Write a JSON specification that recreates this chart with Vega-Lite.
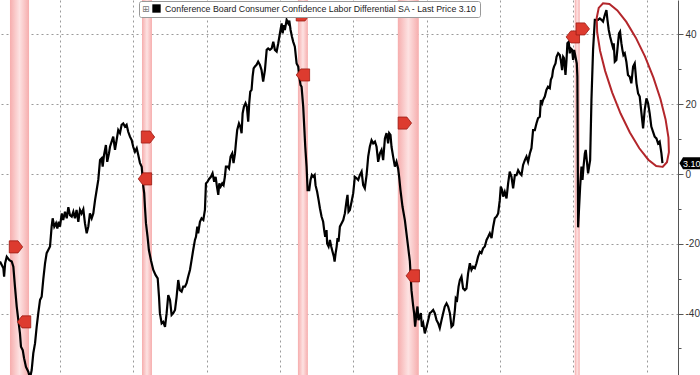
{
  "$schema": "https://vega.github.io/schema/vega-lite/v6.json",
  "width": 678,
  "height": 375,
  "padding": {"left": 0, "top": 0, "bottom": 0, "right": 22},
  "autosize": {"type": "none"},
  "background": "white",
  "config": {"view": {"stroke": null}, "font": "Liberation Sans"},
  "datasets": {
    "rec": [
      {"start": 1981.59, "end": 1982.89},
      {"start": 1990.59, "end": 1991.27},
      {"start": 2001.22, "end": 2001.9},
      {"start": 2008.03, "end": 2009.46},
      {"start": 2020.09, "end": 2020.43}
    ],
    "series": [
      {"t":1980.91,"v":-25.1},{"t":1981.03,"v":-26.1},{"t":1981.14,"v":-27.0},{"t":1981.19,"v":-29.4},{"t":1981.26,"v":-25.6},{"t":1981.37,"v":-23.7},{"t":1981.55,"v":-24.7},{"t":1981.71,"v":-25.1},{"t":1981.82,"v":-26.6},{"t":1981.93,"v":-32.3},
      {"t":1982.05,"v":-38.0},{"t":1982.16,"v":-41.9},{"t":1982.27,"v":-45.7},{"t":1982.34,"v":-49.5},{"t":1982.46,"v":-50.5},{"t":1982.55,"v":-52.8},{"t":1982.68,"v":-55.3},{"t":1982.84,"v":-56.7},{"t":1982.96,"v":-58.5},{"t":1983.07,"v":-56.2},
      {"t":1983.18,"v":-51.4},{"t":1983.30,"v":-48.5},{"t":1983.41,"v":-43.8},{"t":1983.52,"v":-39.9},{"t":1983.64,"v":-36.1},{"t":1983.75,"v":-35.2},{"t":1983.86,"v":-30.2},{"t":1983.98,"v":-25.6},{"t":1984.09,"v":-22.7},{"t":1984.32,"v":-20.8},
      {"t":1984.43,"v":-15.1},{"t":1984.50,"v":-12.7},{"t":1984.61,"v":-15.1},{"t":1984.73,"v":-14.1},{"t":1984.82,"v":-15.6},{"t":1984.91,"v":-13.7},{"t":1985.00,"v":-15.1},{"t":1985.12,"v":-11.3},{"t":1985.22,"v":-13.2},{"t":1985.34,"v":-10.8},
      {"t":1985.46,"v":-12.7},{"t":1985.57,"v":-9.5},{"t":1985.68,"v":-11.8},{"t":1985.80,"v":-12.2},{"t":1985.91,"v":-10.8},{"t":1986.02,"v":-12.7},{"t":1986.13,"v":-10.3},{"t":1986.25,"v":-13.7},{"t":1986.36,"v":-10.3},{"t":1986.47,"v":-11.3},
      {"t":1986.59,"v":-10.1},{"t":1986.70,"v":-14.1},{"t":1986.82,"v":-17.0},{"t":1986.93,"v":-15.1},{"t":1987.04,"v":-11.3},{"t":1987.16,"v":-12.7},{"t":1987.27,"v":-11.3},{"t":1987.39,"v":-7.5},{"t":1987.50,"v":-4.6},{"t":1987.61,"v":-1.7},
      {"t":1987.73,"v":4.0},{"t":1987.84,"v":4.5},{"t":1987.91,"v":2.1},{"t":1988.00,"v":5.4},{"t":1988.13,"v":8.3},{"t":1988.22,"v":3.5},{"t":1988.34,"v":5.9},{"t":1988.41,"v":7.8},{"t":1988.52,"v":9.3},{"t":1988.63,"v":10.7},
      {"t":1988.75,"v":6.9},{"t":1988.86,"v":9.7},{"t":1988.97,"v":12.6},{"t":1989.09,"v":11.7},{"t":1989.20,"v":14.1},{"t":1989.31,"v":14.5},{"t":1989.43,"v":13.6},{"t":1989.54,"v":14.1},{"t":1989.65,"v":12.1},{"t":1989.77,"v":10.7},
      {"t":1989.89,"v":9.7},{"t":1989.99,"v":7.8},{"t":1990.11,"v":6.4},{"t":1990.23,"v":7.4},{"t":1990.34,"v":5.4},{"t":1990.45,"v":3.2},{"t":1990.57,"v":2.1},{"t":1990.68,"v":-3.6},{"t":1990.74,"v":-5.5},{"t":1990.79,"v":-9.4},
      {"t":1990.86,"v":-14.1},{"t":1990.97,"v":-18.0},{"t":1991.06,"v":-21.8},{"t":1991.20,"v":-24.7},{"t":1991.36,"v":-27.5},{"t":1991.52,"v":-29.0},{"t":1991.66,"v":-29.9},{"t":1991.75,"v":-35.2},{"t":1991.81,"v":-39.9},{"t":1991.93,"v":-42.8},
      {"t":1992.04,"v":-42.4},{"t":1992.16,"v":-43.8},{"t":1992.27,"v":-39.9},{"t":1992.38,"v":-34.7},{"t":1992.50,"v":-36.1},{"t":1992.61,"v":-40.4},{"t":1992.72,"v":-39.9},{"t":1992.84,"v":-39.0},{"t":1992.95,"v":-35.2},{"t":1993.06,"v":-30.4},
      {"t":1993.17,"v":-33.3},{"t":1993.29,"v":-33.7},{"t":1993.40,"v":-32.3},{"t":1993.52,"v":-32.3},{"t":1993.63,"v":-31.3},{"t":1993.74,"v":-29.4},{"t":1993.86,"v":-27.5},{"t":1993.97,"v":-24.7},{"t":1994.08,"v":-21.8},{"t":1994.20,"v":-18.9},
      {"t":1994.27,"v":-18.0},{"t":1994.36,"v":-15.1},{"t":1994.42,"v":-17.0},{"t":1994.54,"v":-13.7},{"t":1994.65,"v":-12.7},{"t":1994.77,"v":-13.2},{"t":1994.88,"v":-10.3},{"t":1994.95,"v":-2.7},{"t":1995.06,"v":-2.2},{"t":1995.15,"v":-1.5},
      {"t":1995.29,"v":-0.8},{"t":1995.40,"v":0.2},{"t":1995.51,"v":-2.2},{"t":1995.61,"v":-0.8},{"t":1995.70,"v":-3.6},{"t":1995.79,"v":-6.0},{"t":1995.86,"v":-2.7},{"t":1995.95,"v":-3.6},{"t":1996.06,"v":-2.7},{"t":1996.15,"v":-3.2},
      {"t":1996.24,"v":-0.8},{"t":1996.31,"v":2.1},{"t":1996.43,"v":2.1},{"t":1996.52,"v":1.6},{"t":1996.63,"v":5.0},{"t":1996.74,"v":5.9},{"t":1996.83,"v":3.1},{"t":1996.93,"v":5.9},{"t":1996.99,"v":8.8},{"t":1997.08,"v":12.6},
      {"t":1997.20,"v":14.5},{"t":1997.29,"v":13.6},{"t":1997.38,"v":11.7},{"t":1997.45,"v":17.4},{"t":1997.54,"v":19.3},{"t":1997.65,"v":20.3},{"t":1997.74,"v":19.3},{"t":1997.83,"v":15.0},{"t":1997.90,"v":20.3},{"t":1997.97,"v":23.6},
      {"t":1998.06,"v":24.1},{"t":1998.13,"v":27.9},{"t":1998.20,"v":30.3},{"t":1998.29,"v":30.8},{"t":1998.40,"v":31.3},{"t":1998.51,"v":32.2},{"t":1998.63,"v":31.3},{"t":1998.74,"v":29.8},{"t":1998.85,"v":26.5},{"t":1998.97,"v":29.8},
      {"t":1999.09,"v":35.6},{"t":1999.19,"v":36.0},{"t":1999.31,"v":35.6},{"t":1999.43,"v":36.0},{"t":1999.54,"v":37.9},{"t":1999.65,"v":35.6},{"t":1999.77,"v":35.1},{"t":1999.88,"v":37.5},{"t":1999.99,"v":40.3},{"t":2000.11,"v":43.2},
      {"t":2000.18,"v":40.3},{"t":2000.26,"v":42.7},{"t":2000.33,"v":41.3},{"t":2000.45,"v":44.2},{"t":2000.56,"v":43.2},{"t":2000.63,"v":44.0},{"t":2000.72,"v":41.3},{"t":2000.81,"v":39.4},{"t":2000.90,"v":37.9},{"t":2001.01,"v":36.5},
      {"t":2001.13,"v":31.7},{"t":2001.24,"v":30.8},{"t":2001.31,"v":27.9},{"t":2001.40,"v":25.5},{"t":2001.47,"v":25.0},{"t":2001.58,"v":19.3},{"t":2001.65,"v":13.6},{"t":2001.72,"v":7.8},{"t":2001.81,"v":2.1},{"t":2001.88,"v":-4.6},
      {"t":2001.99,"v":-4.6},{"t":2002.08,"v":-1.7},{"t":2002.17,"v":-0.3},{"t":2002.26,"v":-0.8},{"t":2002.36,"v":-0.3},{"t":2002.42,"v":-3.2},{"t":2002.53,"v":-5.1},{"t":2002.63,"v":-7.5},{"t":2002.72,"v":-9.8},{"t":2002.83,"v":-12.2},
      {"t":2002.94,"v":-13.7},{"t":2003.01,"v":-16.1},{"t":2003.08,"v":-18.0},{"t":2003.17,"v":-16.1},{"t":2003.21,"v":-19.9},{"t":2003.31,"v":-20.8},{"t":2003.40,"v":-18.9},{"t":2003.49,"v":-20.8},{"t":2003.58,"v":-22.3},{"t":2003.67,"v":-23.7},
      {"t":2003.72,"v":-25.1},{"t":2003.79,"v":-22.7},{"t":2003.86,"v":-20.8},{"t":2003.92,"v":-18.4},{"t":2003.99,"v":-19.4},{"t":2004.08,"v":-15.1},{"t":2004.20,"v":-14.1},{"t":2004.31,"v":-13.2},{"t":2004.42,"v":-11.3},{"t":2004.54,"v":-7.5},
      {"t":2004.60,"v":-6.0},{"t":2004.67,"v":-10.8},{"t":2004.76,"v":-10.3},{"t":2004.88,"v":-7.9},{"t":2004.99,"v":-5.5},{"t":2005.10,"v":-0.8},{"t":2005.22,"v":-1.2},{"t":2005.33,"v":-1.7},{"t":2005.44,"v":-0.3},{"t":2005.56,"v":0.7},
      {"t":2005.67,"v":-3.2},{"t":2005.78,"v":-4.1},{"t":2005.90,"v":-0.3},{"t":2006.01,"v":5.0},{"t":2006.12,"v":7.8},{"t":2006.24,"v":9.7},{"t":2006.35,"v":8.8},{"t":2006.47,"v":9.3},{"t":2006.58,"v":7.8},{"t":2006.69,"v":3.5},
      {"t":2006.81,"v":5.9},{"t":2006.92,"v":6.9},{"t":2007.03,"v":4.0},{"t":2007.15,"v":10.2},{"t":2007.26,"v":11.7},{"t":2007.37,"v":8.8},{"t":2007.44,"v":11.7},{"t":2007.53,"v":11.2},{"t":2007.60,"v":7.8},{"t":2007.71,"v":5.0},
      {"t":2007.83,"v":2.1},{"t":2007.94,"v":3.5},{"t":2008.05,"v":1.6},{"t":2008.12,"v":-0.8},{"t":2008.21,"v":-4.6},{"t":2008.35,"v":-9.4},{"t":2008.51,"v":-13.2},{"t":2008.62,"v":-17.0},{"t":2008.73,"v":-20.8},{"t":2008.85,"v":-25.0},
      {"t":2008.96,"v":-33.3},{"t":2009.07,"v":-37.6},{"t":2009.14,"v":-39.9},{"t":2009.21,"v":-43.8},{"t":2009.30,"v":-39.9},{"t":2009.37,"v":-38.0},{"t":2009.44,"v":-41.9},{"t":2009.53,"v":-40.9},{"t":2009.60,"v":-39.9},{"t":2009.67,"v":-43.8},
      {"t":2009.76,"v":-42.8},{"t":2009.87,"v":-45.7},{"t":2009.99,"v":-43.8},{"t":2010.10,"v":-41.9},{"t":2010.21,"v":-39.9},{"t":2010.33,"v":-39.5},{"t":2010.44,"v":-39.0},{"t":2010.55,"v":-39.9},{"t":2010.67,"v":-41.9},{"t":2010.78,"v":-42.8},
      {"t":2010.89,"v":-44.2},{"t":2011.01,"v":-41.9},{"t":2011.12,"v":-39.9},{"t":2011.23,"v":-38.0},{"t":2011.35,"v":-37.1},{"t":2011.46,"v":-38.0},{"t":2011.58,"v":-39.9},{"t":2011.69,"v":-43.8},{"t":2011.80,"v":-43.3},{"t":2011.92,"v":-39.0},
      {"t":2011.98,"v":-35.6},{"t":2012.07,"v":-36.1},{"t":2012.17,"v":-32.3},{"t":2012.26,"v":-30.4},{"t":2012.37,"v":-29.4},{"t":2012.48,"v":-32.8},{"t":2012.60,"v":-33.3},{"t":2012.71,"v":-32.8},{"t":2012.82,"v":-28.5},{"t":2012.94,"v":-25.6},
      {"t":2013.05,"v":-27.5},{"t":2013.16,"v":-26.6},{"t":2013.28,"v":-27.0},{"t":2013.39,"v":-25.6},{"t":2013.50,"v":-23.7},{"t":2013.62,"v":-22.3},{"t":2013.73,"v":-22.7},{"t":2013.84,"v":-21.3},{"t":2013.96,"v":-20.8},{"t":2014.08,"v":-18.9},
      {"t":2014.19,"v":-18.0},{"t":2014.30,"v":-17.0},{"t":2014.42,"v":-18.4},{"t":2014.53,"v":-15.1},{"t":2014.64,"v":-12.7},{"t":2014.76,"v":-12.2},{"t":2014.87,"v":-11.3},{"t":2014.98,"v":-7.5},{"t":2015.05,"v":-3.6},{"t":2015.14,"v":-4.6},
      {"t":2015.21,"v":-6.5},{"t":2015.32,"v":-5.1},{"t":2015.44,"v":-7.0},{"t":2015.55,"v":-2.7},{"t":2015.66,"v":0.7},{"t":2015.78,"v":-0.8},{"t":2015.89,"v":-4.1},{"t":2016.01,"v":-0.3},{"t":2016.12,"v":-0.3},{"t":2016.23,"v":1.1},
      {"t":2016.35,"v":0.2},{"t":2016.46,"v":-0.3},{"t":2016.57,"v":2.6},{"t":2016.69,"v":4.0},{"t":2016.80,"v":5.0},{"t":2016.91,"v":3.5},{"t":2017.03,"v":5.9},{"t":2017.14,"v":7.4},{"t":2017.25,"v":12.6},{"t":2017.37,"v":12.6},
      {"t":2017.48,"v":14.5},{"t":2017.59,"v":16.0},{"t":2017.71,"v":16.4},{"t":2017.78,"v":21.2},{"t":2017.87,"v":20.3},{"t":2017.93,"v":21.2},{"t":2018.05,"v":22.2},{"t":2018.16,"v":24.1},{"t":2018.27,"v":25.0},{"t":2018.39,"v":24.6},
      {"t":2018.46,"v":27.0},{"t":2018.55,"v":27.9},{"t":2018.61,"v":29.8},{"t":2018.68,"v":30.8},{"t":2018.78,"v":31.7},{"t":2018.85,"v":33.6},{"t":2018.96,"v":34.6},{"t":2019.07,"v":34.1},{"t":2019.14,"v":32.7},{"t":2019.23,"v":29.8},
      {"t":2019.30,"v":33.6},{"t":2019.36,"v":33.2},{"t":2019.46,"v":28.4},{"t":2019.53,"v":32.7},{"t":2019.59,"v":37.5},{"t":2019.68,"v":37.9},{"t":2019.75,"v":34.6},{"t":2019.82,"v":36.0},{"t":2019.91,"v":35.6},{"t":2019.98,"v":32.7},
      {"t":2020.05,"v":35.6},{"t":2020.14,"v":33.6},{"t":2020.23,"v":31.7},{"t":2020.27,"v":28.0},{"t":2020.32,"v":-15.3},{"t":2020.39,"v":-9.4},{"t":2020.46,"v":-3.6},{"t":2020.55,"v":2.1},{"t":2020.62,"v":-1.7},{"t":2020.69,"v":2.1},
      {"t":2020.78,"v":5.9},{"t":2020.84,"v":6.9},{"t":2020.91,"v":4.0},{"t":2021.00,"v":0.2},{"t":2021.07,"v":2.1},{"t":2021.14,"v":4.0},{"t":2021.23,"v":21.2},{"t":2021.34,"v":35.6},{"t":2021.46,"v":44.2},{"t":2021.68,"v":44.2},
      {"t":2021.80,"v":44.6},{"t":2021.91,"v":44.2},{"t":2022.02,"v":43.7},{"t":2022.14,"v":45.6},{"t":2022.25,"v":47.0},{"t":2022.32,"v":44.2},{"t":2022.41,"v":41.3},{"t":2022.50,"v":39.4},{"t":2022.59,"v":37.9},{"t":2022.68,"v":36.5},
      {"t":2022.75,"v":37.5},{"t":2022.82,"v":32.2},{"t":2022.93,"v":32.7},{"t":2023.04,"v":37.5},{"t":2023.11,"v":40.3},{"t":2023.18,"v":40.8},{"t":2023.27,"v":37.5},{"t":2023.34,"v":35.6},{"t":2023.41,"v":34.1},{"t":2023.50,"v":34.6},
      {"t":2023.61,"v":32.2},{"t":2023.72,"v":28.4},{"t":2023.84,"v":27.9},{"t":2023.95,"v":26.0},{"t":2024.07,"v":30.8},{"t":2024.18,"v":31.7},{"t":2024.30,"v":26.0},{"t":2024.41,"v":23.1},{"t":2024.52,"v":22.2},{"t":2024.64,"v":17.4},
      {"t":2024.75,"v":13.1},{"t":2024.86,"v":18.4},{"t":2024.98,"v":21.7},{"t":2025.09,"v":20.3},{"t":2025.20,"v":17.4},{"t":2025.31,"v":13.6},{"t":2025.43,"v":12.1},{"t":2025.54,"v":10.7},{"t":2025.66,"v":10.2},{"t":2025.77,"v":8.8},
      {"t":2025.88,"v":9.3},{"t":2026.00,"v":5.9},{"t":2026.07,"v":3.1}
    ],
    "flags": [
      {"t":1982.0,"v":-20.9,"dir":"R"},
      {"t":1982.55,"v":-42.4,"dir":"L"},
      {"t":1991.0,"v":10.6,"dir":"R"},
      {"t":1990.79,"v":-1.4,"dir":"L"},
      {"t":2001.56,"v":28.4,"dir":"L"},
      {"t":2001.56,"v":45.6,"dir":"R"},
      {"t":2008.51,"v":14.6,"dir":"R"},
      {"t":2009.05,"v":-29.2,"dir":"L"},
      {"t":2019.96,"v":39.3,"dir":"L"},
      {"t":2020.64,"v":41.6,"dir":"R"}
    ],
    "circle": [{"t": 2024.05, "v": 25.5}],
    "last": [{"t": 2027.13, "v": 3.1, "label": "3.10"}]
  },
  "layer": [
    {
      "data": {"name": "rec"},
      "mark": {
        "type": "rect",
        "fill": {"gradient": "linear", "x1": 0, "y1": 0, "x2": 1, "y2": 0,
          "stops": [{"offset": 0, "color": "#f6adad"}, {"offset": 0.5, "color": "#fde2e2"}, {"offset": 1, "color": "#f6adad"}]}
      },
      "encoding": {
        "x": {"field": "start", "type": "quantitative",
          "scale": {"domain": [1980.91, 2027.13], "nice": false, "zero": false},
          "axis": {"orient": "bottom", "values": [1985, 1990, 1995, 2000, 2005, 2010, 2015, 2020, 2025],
            "grid": true, "gridDash": [2, 3], "gridColor": "#9a9a9a", "gridWidth": 1,
            "labels": false, "ticks": false, "domain": false, "title": null}},
        "x2": {"field": "end"}
      }
    },
    {
      "data": {"name": "series"},
      "mark": {"type": "line", "strokeWidth": 2.2, "clip": true},
      "encoding": {
        "x": {"field": "t", "type": "quantitative"},
        "y": {"field": "v", "type": "quantitative",
          "scale": {"domain": [-57.63, 49.89], "nice": false, "zero": false},
          "axis": {"orient": "right", "values": [-50, -40, -30, -20, -10, 0, 10, 20, 30, 40],
            "grid": true, "gridDash": [2, 3], "gridColor": "#9a9a9a", "gridWidth": 1,
            "gridOpacity": {"condition": {"test": "datum.value % 20 == 0", "value": 1}, "value": 0},
            "tickSize": {"condition": {"test": "datum.value % 20 == 0", "value": 5}, "value": 3},
            "labelExpr": "datum.value % 20 == 0 ? replace(datum.label, '\u2212', '-') : ''",
            "domainColor": "#555", "tickColor": "#555", "labelColor": "#333",
            "labelFontSize": 10, "labelPadding": 2, "title": null}},
        "color": {"datum": "Conference Board Consumer Confidence Labor Differential SA - Last Price 3.10",
          "scale": {"range": ["#000000"]},
          "legend": {"orient": "none", "legendX": 139, "legendY": 1,
            "title": "\u229e", "titleOrient": "left", "titleFontSize": 9, "titleColor": "#777",
            "titleFont": "DejaVu Sans", "titleFontWeight": "normal", "titlePadding": 2,
            "symbolType": "square", "symbolFillColor": "#000", "symbolStrokeColor": "#000",
            "symbolSize": 70, "symbolStrokeWidth": 0,
            "labelFontSize": 8.8, "labelColor": "#222", "labelLimit": 0, "labelOffset": 4,
            "fillColor": "#ffffff", "strokeColor": "#999999", "padding": 3, "cornerRadius": 2}}
      }
    },
    {
      "data": {"name": "circle"},
      "mark": {"type": "point", "filled": false, "opacity": 1, "size": 32400, "stroke": "#b3262b", "strokeWidth": 2,
        "shape": "M 0.331 0.909 L 0.260 0.900 L 0.172 0.829 L 0.072 0.702 L -0.033 0.527 L -0.136 0.316 L -0.229 0.083 L -0.307 -0.155 L -0.364 -0.382 L -0.396 -0.584 L -0.401 -0.746 L -0.379 -0.857 L -0.331 -0.909 L -0.260 -0.900 L -0.172 -0.829 L -0.072 -0.702 L 0.033 -0.527 L 0.136 -0.316 L 0.229 -0.083 L 0.307 0.155 L 0.364 0.382 L 0.396 0.584 L 0.401 0.746 L 0.379 0.857 Z"},
      "encoding": {
        "x": {"field": "t", "type": "quantitative"},
        "y": {"field": "v", "type": "quantitative"}
      }
    },
    {
      "data": {"name": "flags"},
      "mark": {"type": "point", "filled": true, "opacity": 1, "size": 180, "fill": "#dd3b2f", "stroke": "#9c1c14", "strokeWidth": 0.8},
      "encoding": {
        "x": {"field": "t", "type": "quantitative"},
        "y": {"field": "v", "type": "quantitative"},
        "shape": {"field": "dir", "type": "nominal", "legend": null,
          "scale": {"domain": ["L", "R"], "range": ["M 1 -0.9 L -0.3 -0.9 L -1 0 L -0.3 0.9 L 1 0.9 Z", "M -1 -0.9 L 0.3 -0.9 L 1 0 L 0.3 0.9 L -1 0.9 Z"]}}
      }
    },
    {
      "data": {"name": "last"},
      "mark": {"type": "point", "filled": true, "opacity": 1, "size": 576, "fill": "#000", "stroke": null,
        "shape": "M 0.12 0 L 0.42 -0.5 L 2.2 -0.5 L 2.2 0.5 L 0.42 0.5 Z"},
      "encoding": {
        "x": {"field": "t", "type": "quantitative"},
        "y": {"field": "v", "type": "quantitative"}
      }
    },
    {
      "data": {"name": "last"},
      "mark": {"type": "text", "align": "left", "baseline": "middle", "dx": 5, "dy": 0.5, "fill": "#ffffff", "fontSize": 9},
      "encoding": {
        "x": {"field": "t", "type": "quantitative"},
        "y": {"field": "v", "type": "quantitative"},
        "text": {"field": "label"}
      }
    }
  ]
}
